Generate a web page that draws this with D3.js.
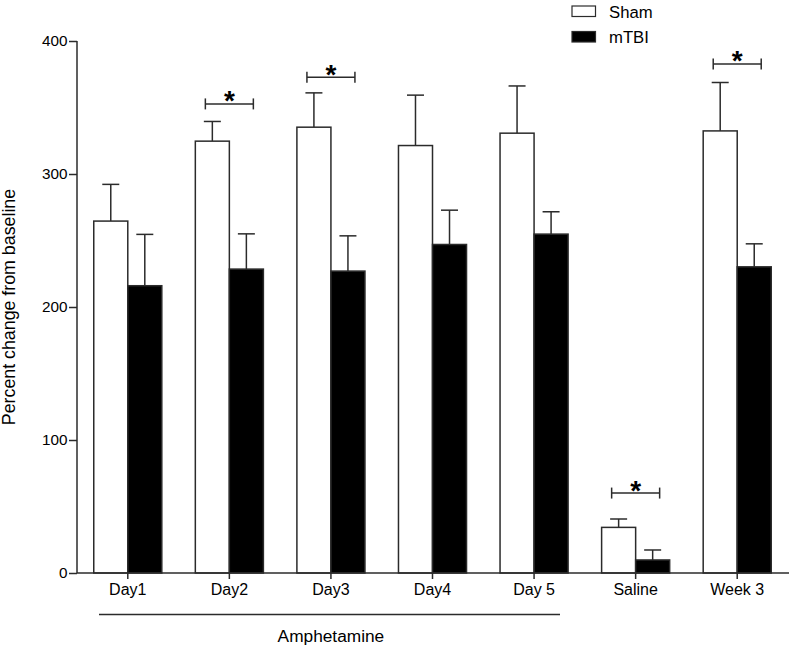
<!DOCTYPE html>
<html><head><meta charset="utf-8">
<script src="https://cdn.jsdelivr.net/npm/d3@7"></script>
<style>body{margin:0;background:#fff;font-family:"Liberation Sans",Arial,sans-serif;}</style>
</head><body>
<svg id="c" width="794" height="649"></svg>
<script>
const categories = ["Day1","Day2","Day3","Day4","Day 5","Saline","Week 3"];
const series = ["Sham","mTBI"];
const shamMean = [264.6,324.7,335.2,321.4,330.7,34.3,332.4];
const shamErr  = [27.6,14.8,25.8,37.9,35.5,6.3,36.4];
const tbiMean  = [216,228.5,227,247,254.8,9.8,230.2];
const tbiErr   = [38.6,26.5,26.5,25.8,16.8,7.5,17.3];
const yTicks = [0,100,200,300,400];
const sigCats = ["Day2","Day3","Saline","Week 3"];
const sigLevel = [352.7,372.8,60.1,382.8];
const groupLabel = "Amphetamine";
const yTitle = "Percent change from baseline";

const svg = d3.select("#c");
const ink = "#2b2b2b";
const FF = "Liberation Sans, Arial, sans-serif";
const y = d3.scaleLinear().domain([0,400]).range([573,41]);
const x = d3.scaleBand().domain(categories).range([77,788]).paddingInner(0.33).paddingOuter(0.165);
const xs = d3.scaleBand().domain(series).range([0,x.bandwidth()]);
const fill = {Sham:"#fff", mTBI:"#000"};

const data = [];
categories.forEach((c,i)=>{
  data.push({c, s:"Sham", v:shamMean[i], e:shamErr[i]});
  data.push({c, s:"mTBI", v:tbiMean[i], e:tbiErr[i]});
});

// error bars (behind bars)
const eg = svg.append("g").attr("stroke",ink).attr("stroke-width",1.5);
data.forEach(d=>{
  const cx = x(d.c)+xs(d.s)+xs.bandwidth()/2;
  eg.append("line").attr("x1",cx).attr("x2",cx).attr("y1",y(d.v)).attr("y2",y(d.v+d.e));
  eg.append("line").attr("x1",cx-8.5).attr("x2",cx+8.5).attr("y1",y(d.v+d.e)).attr("y2",y(d.v+d.e));
});

svg.append("g").selectAll("rect").data(data).join("rect")
  .attr("x",d=>x(d.c)+xs(d.s)).attr("width",xs.bandwidth())
  .attr("y",d=>y(d.v)).attr("height",d=>y(0)-y(d.v))
  .attr("fill",d=>fill[d.s]).attr("stroke",ink).attr("stroke-width",1.5);

// axes
const yAxis = svg.append("g").attr("transform","translate(77,0)")
  .call(d3.axisLeft(y).tickValues(yTicks).tickSize(8).tickPadding(1.5));
const xAxis = svg.append("g").attr("transform","translate(0,573)")
  .call(d3.axisBottom(x).tickSize(6).tickPadding(5).tickSizeOuter(0));
[yAxis,xAxis].forEach(a=>{
  a.selectAll("path,line").attr("stroke",ink).attr("stroke-width",1.5);
  a.selectAll("text").attr("fill","#000").style("font-family",FF);
});
yAxis.selectAll("text").style("font-size","15.3px");
xAxis.selectAll("text").style("font-size","16px");
yAxis.select(".domain").attr("d","M0,41V573");
xAxis.select(".domain").attr("d","M77,0H789");

// y title
svg.append("text").attr("transform","translate(14.5,307) rotate(-90)")
  .attr("text-anchor","middle").style("font-size","17.8px").text(yTitle);

// group line + label
svg.append("line").attr("x1",99).attr("x2",560).attr("y1",614.5).attr("y2",614.5).attr("stroke",ink).attr("stroke-width",1.3);
svg.append("text").attr("x",(x(categories[2])+x.bandwidth()/2)).attr("y",641.5)
  .attr("text-anchor","middle").style("font-size","17.3px").text(groupLabel);

// significance brackets
const sg = svg.append("g").attr("stroke",ink).attr("stroke-width",1.5);
sigCats.forEach((c,i)=>{
  const cx = x(c)+x.bandwidth()/2, yy = y(sigLevel[i]);
  sg.append("line").attr("x1",cx-24).attr("x2",cx+24).attr("y1",yy).attr("y2",yy);
  sg.append("line").attr("x1",cx-24).attr("x2",cx-24).attr("y1",yy-5.5).attr("y2",yy+5.5);
  sg.append("line").attr("x1",cx+24).attr("x2",cx+24).attr("y1",yy-5.5).attr("y2",yy+5.5);
  svg.append("text").attr("x",cx).attr("y",yy+6.5).attr("text-anchor","middle")
    .style("font-size","28px").style("font-weight","bold").text("*");
});

// legend
const lg = svg.append("g").attr("transform","translate(572,6)");
series.forEach((s,i)=>{
  lg.append("rect").attr("x",0).attr("y",i*25.5).attr("width",23.5).attr("height",10.5)
    .attr("fill",fill[s]).attr("stroke",ink).attr("stroke-width",1.2);
  lg.append("text").attr("x",37).attr("y",i*25.5+11.5).style("font-size","16.7px").text(s);
});
</script>
</body></html>
